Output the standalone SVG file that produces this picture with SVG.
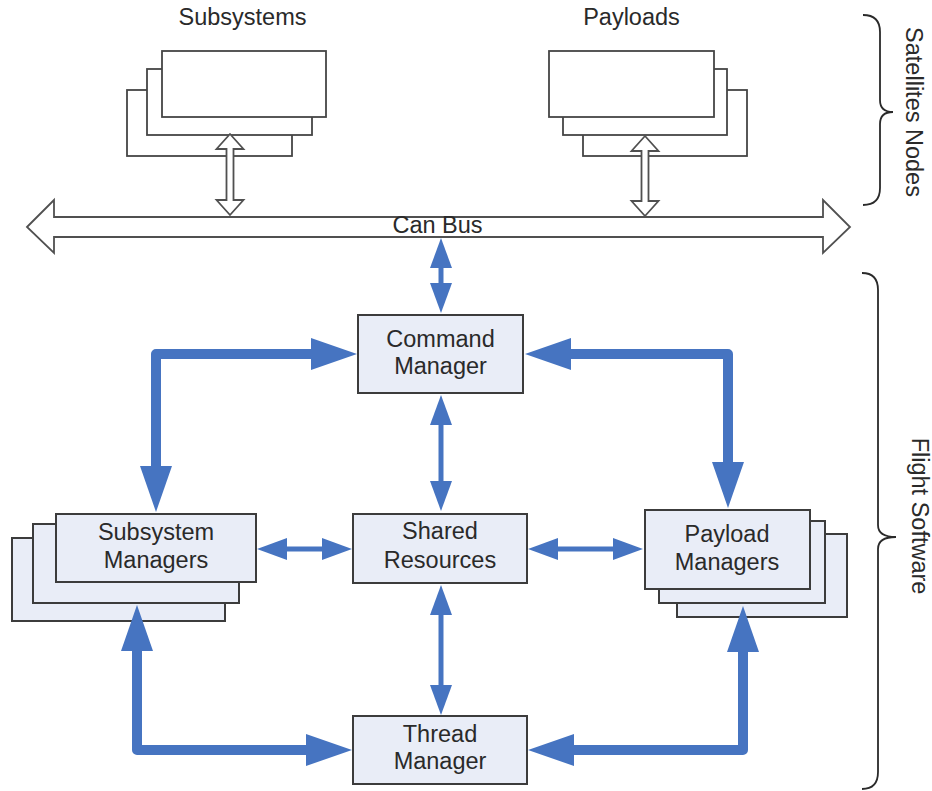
<svg xmlns="http://www.w3.org/2000/svg" width="932" height="791" viewBox="0 0 932 791">
  <style>
    .lbl { font-family: "Liberation Sans", Arial, sans-serif; font-size: 23.5px; fill: #2a2a2a; text-anchor: middle; }
    .sat { fill: #ffffff; stroke: #454545; stroke-width: 1.8; }
    .hollow { fill: #ffffff; stroke: #505050; stroke-width: 1.8; stroke-linejoin: miter; }
    .box { fill: #e9edf7; stroke: #3c3c3c; stroke-width: 2; }
    .brace { fill: none; stroke: #2a2a2a; stroke-width: 1.8; }
    .thin { fill: none; stroke: #4674c1; stroke-width: 5; marker-start: url(#headThin); marker-end: url(#headThin); }
    .thick { fill: none; stroke: #4674c1; stroke-width: 10; stroke-linejoin: round; marker-start: url(#headThick); marker-end: url(#headThick); }
  </style>
  <defs>
    <marker id="headThin" viewBox="0 0 30 22" refX="18" refY="11" markerWidth="30" markerHeight="22" markerUnits="userSpaceOnUse" orient="auto-start-reverse">
      <path d="M0,0 L30,11 L0,22 z" fill="#4674c1"/>
    </marker>
    <marker id="headThick" viewBox="0 0 46 32" refX="31" refY="16" markerWidth="46" markerHeight="32" markerUnits="userSpaceOnUse" orient="auto-start-reverse">
      <path d="M0,0 L46,16 L0,32 z" fill="#4674c1"/>
    </marker>
  </defs>

  <!-- Satellite nodes -->
  <g id="subsystems">
    <rect class="sat" x="127" y="90" width="165" height="66"/>
    <rect class="sat" x="147" y="69" width="165" height="66"/>
    <rect class="sat" x="162" y="51" width="164" height="66"/>
    <text class="lbl" x="242.5" y="25">Subsystems</text>
  </g>
  <g id="payloads">
    <rect class="sat" x="583" y="90" width="164" height="66"/>
    <rect class="sat" x="563" y="69" width="164" height="66"/>
    <rect class="sat" x="549" y="51" width="165" height="66"/>
    <text class="lbl" x="631.5" y="25">Payloads</text>
  </g>

  <!-- CAN bus -->
  <g id="can-bus">
    <polygon class="hollow" points="27,227 54,200 54,217 823,217 823,200 850,227 823,253 823,237 54,237 54,253"/>
    <text class="lbl" x="437.5" y="233">Can Bus</text>
  </g>

  <!-- Flight software nodes -->
  <g id="command-manager">
    <rect class="box" x="358" y="315" width="165" height="78"/>
    <text class="lbl" x="440.5" y="347">Command</text>
    <text class="lbl" x="440.5" y="374">Manager</text>
  </g>
  <g id="shared-resources">
    <rect class="box" x="353" y="514" width="174" height="69"/>
    <text class="lbl" x="440" y="539">Shared</text>
    <text class="lbl" x="440" y="568">Resources</text>
  </g>
  <g id="thread-manager">
    <rect class="box" x="353" y="716" width="174" height="68"/>
    <text class="lbl" x="440" y="742">Thread</text>
    <text class="lbl" x="440" y="769">Manager</text>
  </g>
  <g id="subsystem-managers">
    <rect class="box" x="12" y="538" width="213" height="83"/>
    <rect class="box" x="33" y="524" width="206" height="79"/>
    <rect class="box" x="56" y="514" width="200" height="68"/>
    <text class="lbl" x="156" y="540">Subsystem</text>
    <text class="lbl" x="156" y="568">Managers</text>
  </g>
  <g id="payload-managers">
    <rect class="box" x="677" y="534" width="170" height="83" stroke="#111"/>
    <rect class="box" x="659" y="521" width="166" height="82"/>
    <rect class="box" x="645" y="510" width="165" height="79"/>
    <text class="lbl" x="727" y="542">Payload</text>
    <text class="lbl" x="727" y="570">Managers</text>
  </g>

  <!-- Group braces -->
  <g id="satellites-nodes">
    <path class="brace" d="M863,15 Q880,15 880,32 V100 Q880,112 893,112 Q880,112 880,124 V188 Q880,205 863,205"/>
    <text class="lbl" transform="translate(906,112) rotate(90)">Satellites Nodes</text>
  </g>
  <g id="flight-software">
    <path class="brace" d="M862,273 Q878,273 878,290 V525 Q878,537 896,537 Q878,537 878,549 V772 Q878,789 862,789"/>
    <text class="lbl" transform="translate(912,516) rotate(90)">Flight Software</text>
  </g>

  <!-- Connectors -->
  <g id="connectors">
    <polygon class="hollow" points="230,134 243.5,149 233.5,149 233.5,200 243.5,200 230,215 216.5,200 226.5,200 226.5,149 216.5,149"/>
    <polygon class="hollow" points="645,136 658.5,151 648.5,151 648.5,201 658.5,201 645,216 631.5,201 641.5,201 641.5,151 631.5,151"/>

    <path class="thin" d="M441,250 V301"/>
    <path class="thin" d="M441,407 V499"/>
    <path class="thin" d="M441,597 V703"/>
    <path class="thin" d="M269,549 H340"/>
    <path class="thin" d="M540,549 H631"/>

    <path class="thick" d="M342,354 H156 V497"/>
    <path class="thick" d="M540,354 H728 V493"/>
    <path class="thick" d="M137,620 V750 H337"/>
    <path class="thick" d="M743,621 V750 H543"/>
  </g>
</svg>
